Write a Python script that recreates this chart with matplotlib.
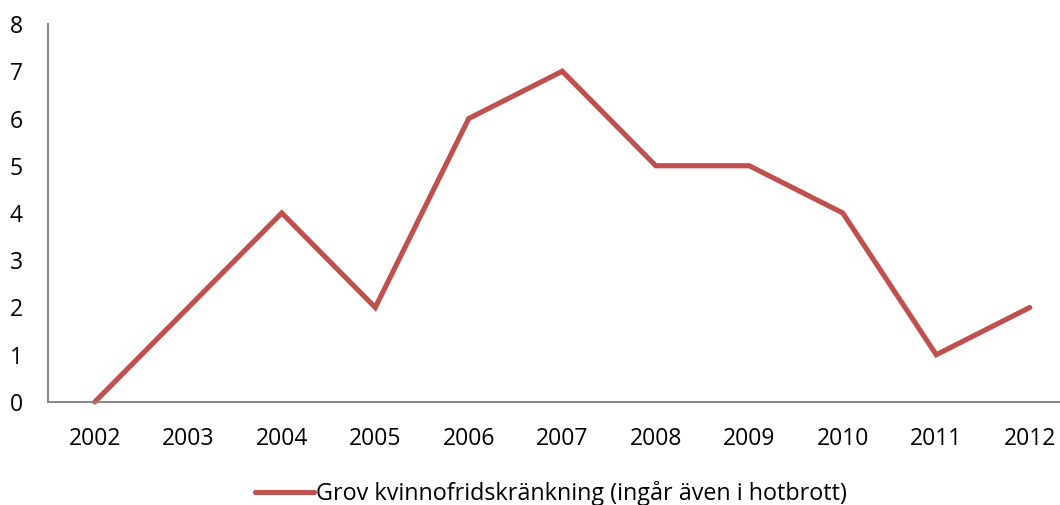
import matplotlib
matplotlib.use("Agg")
import matplotlib.pyplot as plt

years = ["2002", "2003", "2004", "2005", "2006", "2007", "2008", "2009", "2010", "2011", "2012"]
values = [0, 2, 4, 2, 6, 7, 5, 5, 4, 1, 2]
series_name = "Grov kvinnofridskränkning (ingår även i hotbrott)"
y_ticks = [0, 1, 2, 3, 4, 5, 6, 7, 8]

W, H = 1060, 505
fig = plt.figure(figsize=(W / 100, H / 100), dpi=100)
plt.rcParams['font.family'] = ['Open Sans', 'DejaVu Sans']

left, right, top, bottom = 48, 1076.5, 24, 402
ax = fig.add_axes([left / W, (H - bottom) / H, (right - left) / W, (bottom - top) / H])

x = list(range(len(years)))
line, = ax.plot(x, values, color="#C0504D", linewidth=3.7, solid_capstyle="round",
                solid_joinstyle="miter", label=series_name, clip_on=False)

ax.set_xlim(-0.5, len(years) - 0.5)
ax.set_ylim(0, 8)
ax.set_xticks(x)
ax.set_xticklabels(years)
ax.set_yticks(y_ticks)
ax.tick_params(axis="both", length=0, labelsize=16.5, colors="black")
ax.tick_params(axis="x", pad=18)
ax.tick_params(axis="y", pad=18)

for s in ["top", "right"]:
    ax.spines[s].set_visible(False)
for s in ["left", "bottom"]:
    ax.spines[s].set_color("#868686")
    ax.spines[s].set_linewidth(1.4)

fig.legend(handles=[line], loc="center", bbox_to_anchor=(551 / W, 1 - 494 / H),
           frameon=False, fontsize=16.8, handlelength=2.5, handletextpad=0.1,
           borderpad=0, borderaxespad=0)

fig.savefig("out.png", dpi=100)
